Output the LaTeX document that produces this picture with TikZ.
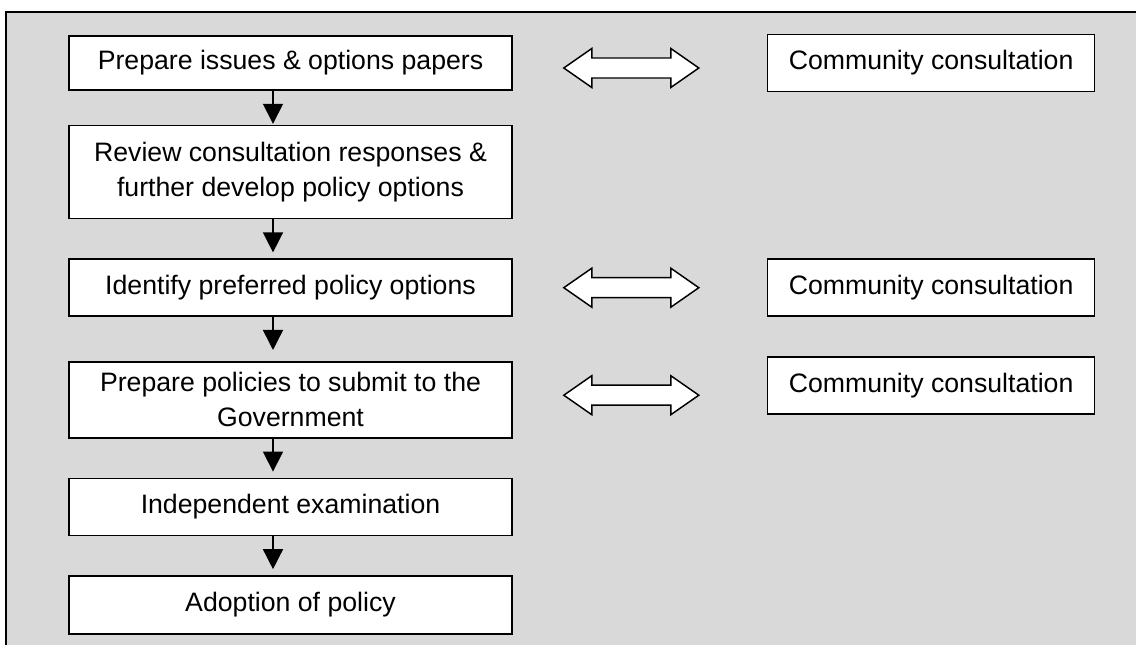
\documentclass[tikz,border=0pt]{standalone}
\usepackage{fontspec}
\setmainfont{Liberation Sans}
\usetikzlibrary{positioning,calc,arrows.meta}
\definecolor{panelgray}{HTML}{D9D9D9}

\begin{document}
\begin{tikzpicture}[x=0.75pt, y=-0.75pt, node distance=29.25pt,
    font=\fontsize{20}{26}\selectfont,
    stage/.style={draw, fill=white, line width=1.2pt, minimum width=332.25pt, minimum height=42.75pt, inner sep=0pt, align=center},
    consult/.style={draw, fill=white, line width=1.2pt, minimum width=245.25pt, minimum height=42.75pt, inner sep=0pt, align=center},
    down/.style={line width=1.1pt, -{Triangle[width=15pt,length=15pt]}},
    twoway/.default=0pt,
    twoway/.style={draw, fill=white, line width=1.1pt, to path={
        let \p1=(\tikztostart), \p2=(\tikztotarget), \p3=($(\tikztostart)!.5!(\tikztotarget)$),
            \p4=(\x1+38.25pt,\y3-#1), \p5=(\x2-51pt,\y3-#1) in
        (\p4) -- ++(21pt,14.625pt) -- ++(0pt,-7.125pt) -- (\x5-21pt,\y5+7.5pt) -- ++(0pt,7.125pt)
        -- (\p5) -- ++(-21pt,-14.625pt) -- ++(0pt,7.125pt) -- (\x4+21pt,\y4-7.5pt) -- ++(0pt,-7.125pt) -- cycle}}]
    \useasboundingbox (0,0) rectangle (1136,645);
    \clip (0,0) rectangle (1136,645);
    \draw[fill=panelgray, line width=1.5pt] (6,12) rectangle (1160,670);

    % process steps
    \node (B1) [stage, minimum height=40.5pt] at (290.5,63) {Prepare issues \& options papers};
    \node (B2) [stage, minimum height=69.75pt, below=25.5pt of B1] {Review consultation responses \&\\further develop policy options};
    \node (B3) [stage, below=of B2] {Identify preferred policy options};
    \node (B4) [stage, minimum height=57pt, below=33pt of B3] {Prepare policies to submit to the\\Government};
    \node (B5) [stage, below=of B4] {Independent examination};
    \node (B6) [stage, minimum height=43.5pt, below=of B5] {Adoption of policy};

    % consultation
    \node (R1) [consult, right=190.5pt of B1] {Community consultation};
    \node (R2) [consult, right=190.5pt of B3] {Community consultation};
    \node (R3) [consult, below=of R2] {Community consultation};

    \coordinate (ax) at (273,0);
    \foreach \a/\b/\s in {B1/B2/0.75pt, B2/B3/4.5pt, B3/B4/8.25pt, B4/B5/4.5pt, B5/B6/4.5pt}
        \draw[down, shorten >=\s] (\a.south -| ax) -- (\b.north -| ax);

    \draw[twoway=3.75pt] (B1.east) to (R1.west);
    \draw[twoway] (B3.east) to (R2.west);
    \draw[twoway=2pt] (B4.east) to (R3.west);
\end{tikzpicture}
\end{document}
